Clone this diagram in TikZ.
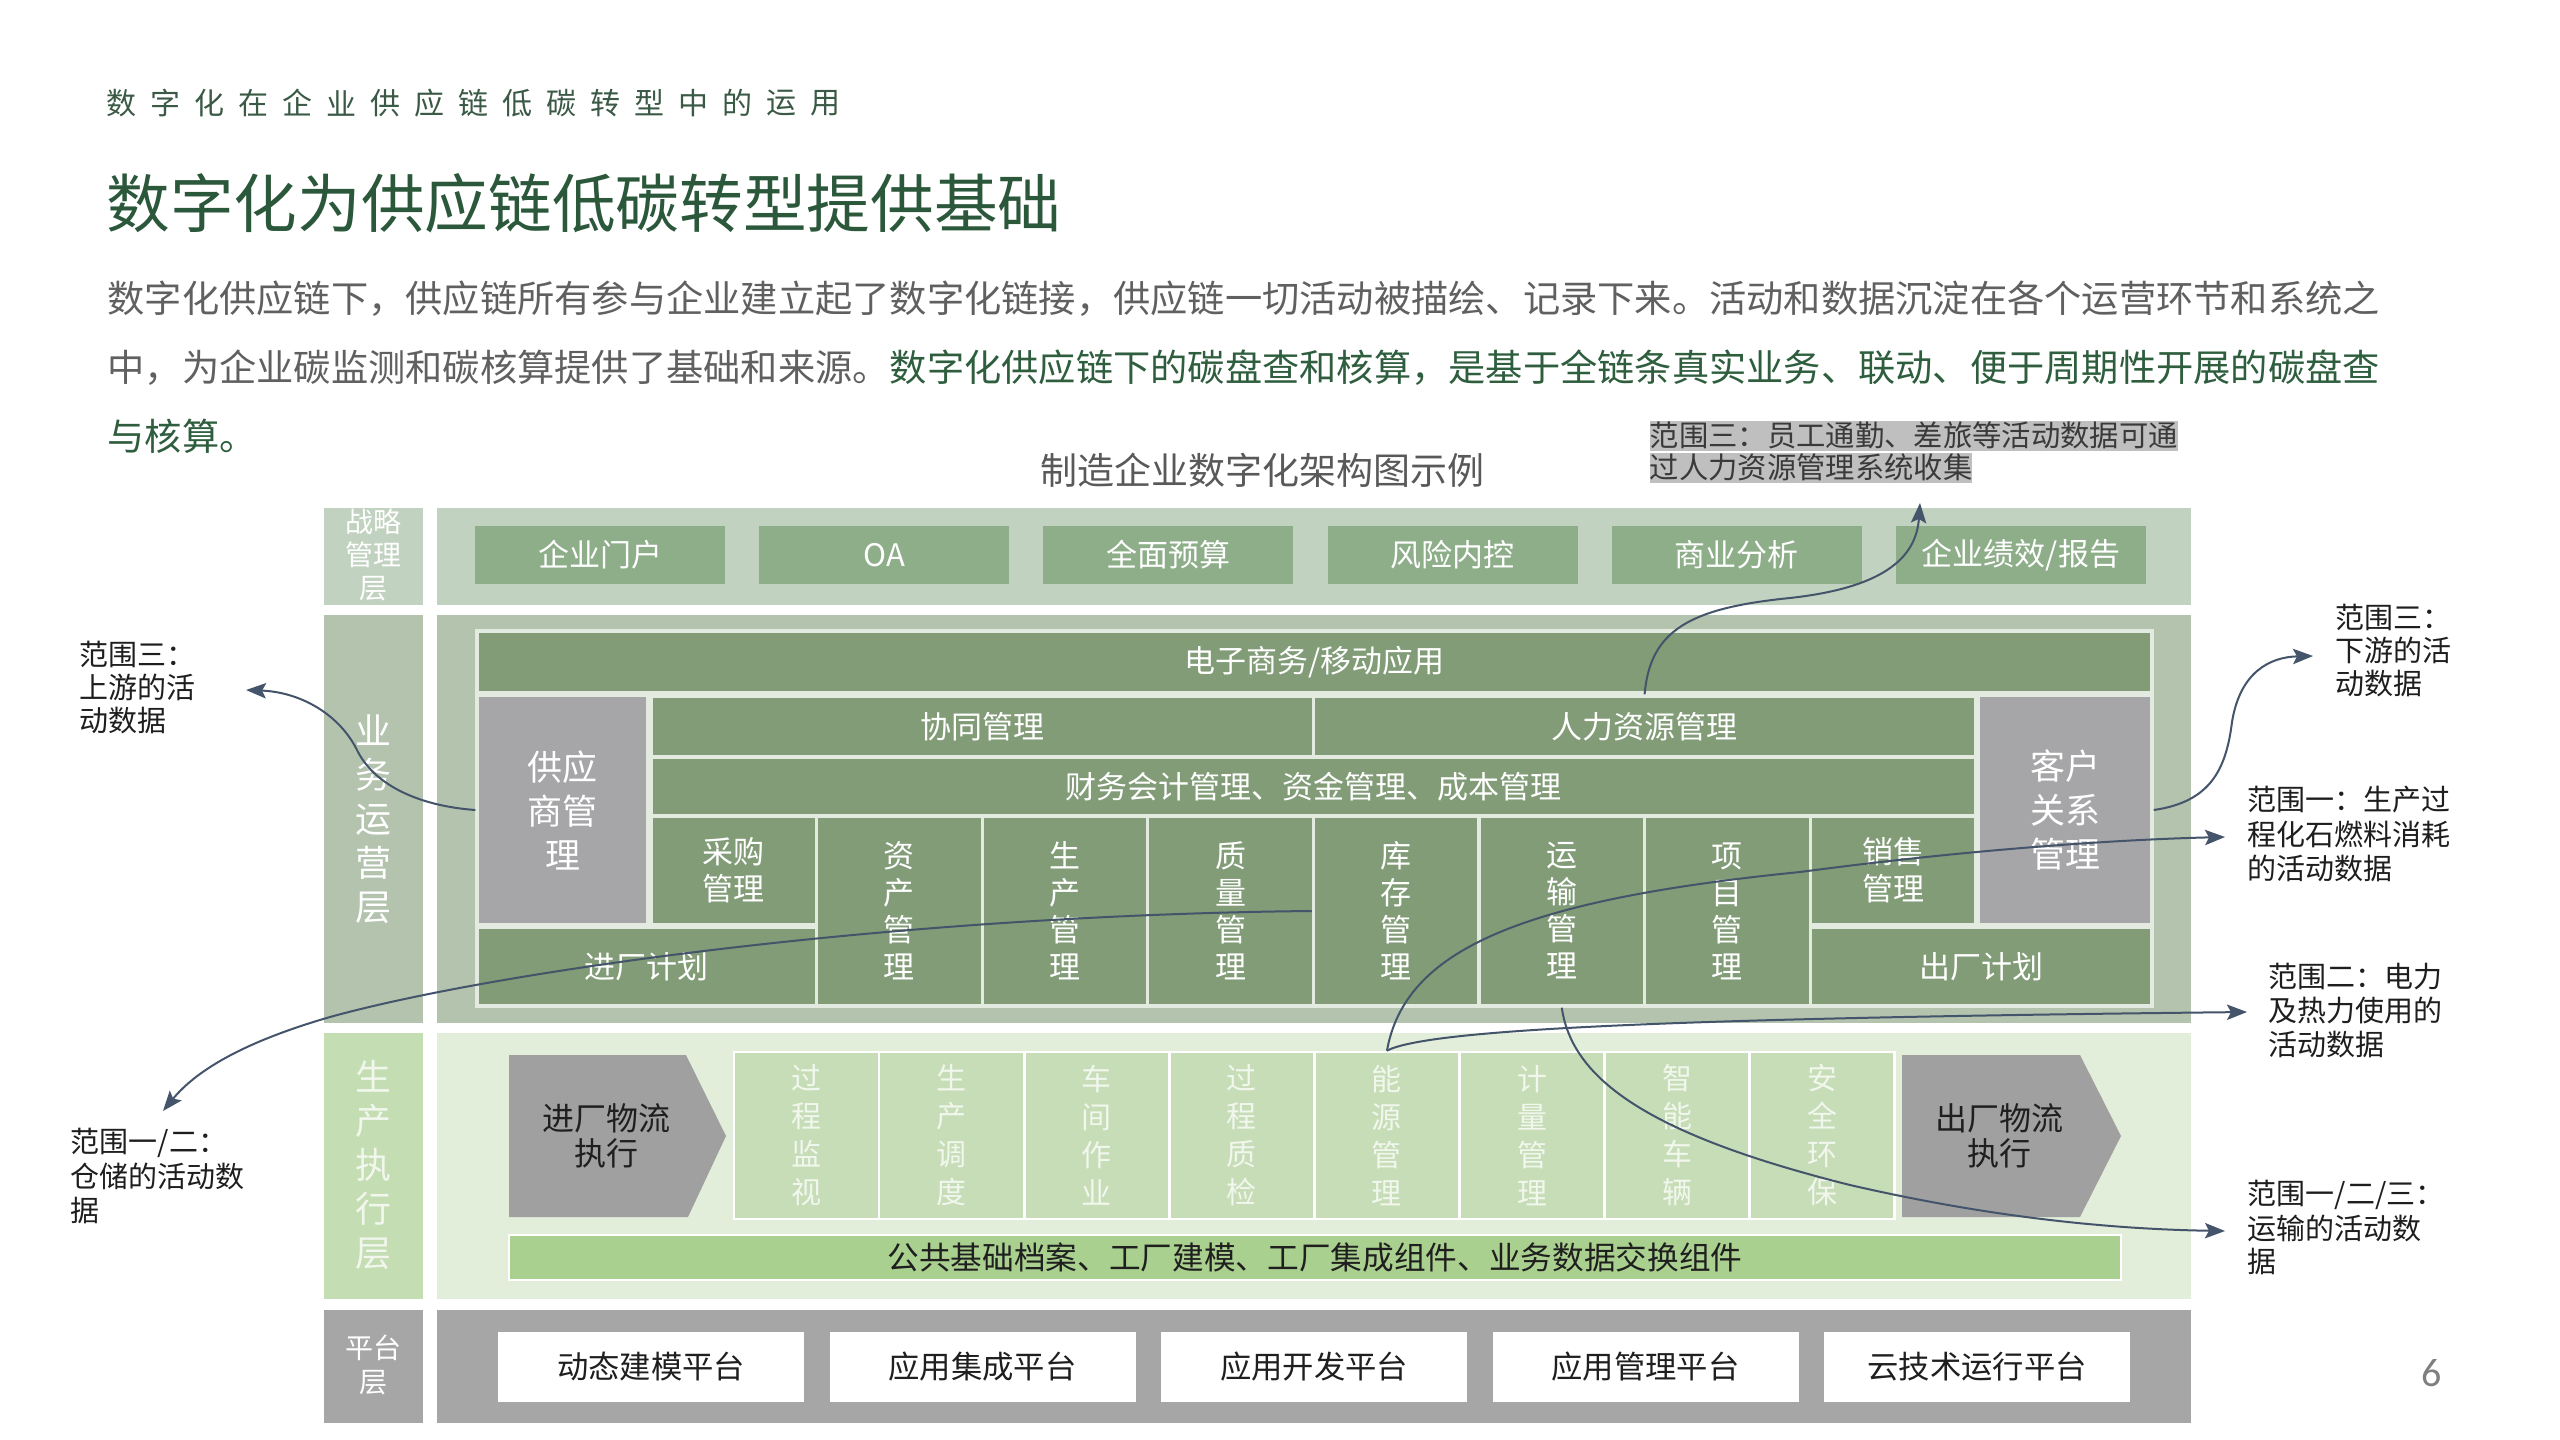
\documentclass[tikz,border=0pt]{standalone}
\usepackage{fontspec}
\setmainfont{Noto Sans CJK SC}
\newfontfamily\numfont{Carlito}
\usetikzlibrary{arrows.meta}
\definecolor{titlec}{HTML}{2B573B}
\definecolor{subc}{HTML}{3A5A45}
\definecolor{paragray}{HTML}{606060}
\definecolor{paragreen}{HTML}{2E5E3E}
\definecolor{capc}{HTML}{595959}
\definecolor{notec}{HTML}{1E1E1E}
\definecolor{hlfill}{HTML}{BFBFBF}
\definecolor{hltext}{HTML}{3A3A3A}
\definecolor{stratbg}{HTML}{C2D2C0}
\definecolor{busbg}{HTML}{B3C3AE}
\definecolor{sboxc}{HTML}{8DAE89}
\definecolor{bzbar}{HTML}{819C77}
\definecolor{bzline}{HTML}{E3EAE0}
\definecolor{graybx}{HTML}{A6A6A8}
\definecolor{prodlbl}{HTML}{C4DDB3}
\definecolor{prodbg}{HTML}{E2EDDA}
\definecolor{pcolc}{HTML}{C6DDB7}
\definecolor{ptext}{HTML}{F1F7ED}
\definecolor{pbarc}{HTML}{A9D08E}
\definecolor{logc}{HTML}{A0A0A0}
\definecolor{platbg}{HTML}{A6A6A6}
\definecolor{darktxt}{HTML}{1F1F1F}
\definecolor{linkc}{HTML}{44546A}
\definecolor{pgnum}{HTML}{7F7F7F}
\newcommand\setfs[2]{\fontsize{#1}{#2}\selectfont}
\newcommand\mybox[7]{\node[#6, minimum width={((#4)-(#2))*0.3pt}, minimum height={((#5)-(#3))*0.3pt}] (#1) at ({((#2)+(#4))/2},{((#3)+(#5))/2}) {#7};}
\tikzset{
  sbox/.style={fill=sboxc, inner sep=0, text=white, font=\setfs{9.3}{11}, align=center},
  bbar/.style={fill=bzbar, draw=bzline, line width=1pt, inner sep=0, text=white, font=\setfs{9.3}{11.1}, align=center},
  gbox/.style={fill=graybx, draw=bzline, line width=1pt, inner sep=0, text=white, font=\setfs{10.5}{13.2}, align=center},
  pcol/.style={fill=pcolc, draw=white, line width=0.8pt, inner sep=0, text=ptext, font=\setfs{9}{11.4}, align=center},
  pbar/.style={fill=pbarc, draw=white, line width=0.6pt, inner sep=0, text=darktxt, font=\setfs{9.5}{11}},
  platbox/.style={fill=white, inner sep=0, text=darktxt, font=\setfs{9.4}{11}},
  laylbl/.style={inner sep=0, text=white, align=center},
  logtxt/.style={inner sep=0, text=darktxt, font=\setfs{9.6}{10.5}, align=center},
  note/.style={inner sep=0, anchor=west, text=notec, font=\setfs{8.7}{8.7}},
  hl/.style={fill=hlfill, anchor=west, inner xsep=0, inner ysep=0.1pt, text height=7.6pt, text depth=1.3pt, text=hltext, font=\setfs{8.8}{8.8}},
  link/.style={draw=linkc, line width=0.6pt, -{Stealth[length=6pt,width=4.6pt,inset=1.2pt]}},
}
\begin{document}
\begin{tikzpicture}[x=0.3pt,y=-0.3pt]
\useasboundingbox (0,0) rectangle (2560,1440);
\fill[white] (0,0) rectangle (2560,1440);

% ---------- header ----------
\foreach \c [count=\i from 0] in {数,字,化,在,企,业,供,应,链,低,碳,转,型,中,的,运,用}
  \node[font=\setfs{9}{9}, text=subc, inner sep=0] (sub\i) at ({121+44*\i},103) {\c};
\node[anchor=west, inner sep=0, text=titlec, font=\setfs{19.1}{19.1}] (title) at (106,203) {数字化为供应链低碳转型提供基础};
\node[anchor=west, inner sep=0, text=paragray, font=\setfs{11.175}{11.175}] (para1) at (107,299) {数字化供应链下，供应链所有参与企业建立起了数字化链接，供应链一切活动被描绘、记录下来。活动和数据沉淀在各个运营环节和系统之};
\node[anchor=west, inner sep=0, font=\setfs{11.175}{11.175}] (para2) at (107,367.5) {\textcolor{paragray}{中，为企业碳监测和碳核算提供了基础和来源。}\textcolor{paragreen}{数字化供应链下的碳盘查和核算，是基于全链条真实业务、联动、便于周期性开展的碳盘查}};
\node[anchor=west, inner sep=0, text=paragreen, font=\setfs{11.175}{11.175}] (para3) at (107,436) {与核算。};
\node[inner sep=0, text=capc, font=\setfs{11.1}{11.1}] (caption) at (1262,470) {制造企业数字化架构图示例};
\node[hl] (hrnote1) at (1649,436) {范围三：员工通勤、差旅等活动数据可通};
\node[hl] (hrnote2) at (1649,468) {过人力资源管理系统收集};

% ---------- layer backgrounds ----------
\fill[stratbg] (324,508) rectangle (423,605);
\fill[stratbg] (437,508) rectangle (2191,605);
\fill[busbg] (324,615) rectangle (423,1023);
\fill[busbg] (437,615) rectangle (2191,1023);
\fill[prodlbl] (324,1033) rectangle (423,1299);
\fill[prodbg] (437,1033) rectangle (2191,1299);
\fill[platbg] (324,1310) rectangle (423,1423);
\fill[platbg] (437,1310) rectangle (2191,1423);

\node[laylbl, font=\setfs{8.4}{9.9}] (lblS) at (373,555) {战略\\管理\\层};
\node[laylbl, font=\setfs{10.8}{13.2}] (lblB) at (373,819) {业\\务\\运\\营\\层};
\node[laylbl, font=\setfs{10.8}{13.2}, text=ptext] (lblP) at (373,1165) {生\\产\\执\\行\\层};
\node[laylbl, font=\setfs{8.4}{10.2}] (lblF) at (373,1365) {平台\\层};

% ---------- strategy layer ----------
\mybox{s1}{475}{526}{725}{584}{sbox}{企业门户}
\mybox{s2}{759.2}{526}{1009.2}{584}{sbox}{OA}
\mybox{s3}{1043.4}{526}{1293.4}{584}{sbox}{全面预算}
\mybox{s4}{1327.6}{526}{1577.6}{584}{sbox}{风险内控}
\mybox{s5}{1611.8}{526}{1861.8}{584}{sbox}{商业分析}
\mybox{s6}{1896}{526}{2146}{584}{sbox}{企业绩效/报告}

% ---------- business layer ----------
\mybox{ecom}{477}{631}{2152}{693}{bbar}{电子商务/移动应用}
\mybox{sup}{477}{695}{648}{925}{gbox}{供应\\商管\\理}
\mybox{coop}{651}{696}{1313.4}{757}{bbar}{协同管理}
\mybox{hr}{1313.4}{696}{1975.8}{757}{bbar}{人力资源管理}
\mybox{fin}{651}{757}{1975.8}{816}{bbar}{财务会计管理、资金管理、成本管理}
\mybox{crm}{1978}{695}{2152}{925}{gbox}{客户\\关系\\管理}
\mybox{pur}{651}{816}{816.6}{925}{bbar}{采购\\管理}
\mybox{ast}{816.6}{816}{982.2}{1006}{bbar}{资\\产\\管\\理}
\mybox{prd}{982.2}{816}{1147.8}{1006}{bbar}{生\\产\\管\\理}
\mybox{qua}{1147.8}{816}{1313.4}{1006}{bbar}{质\\量\\管\\理}
\mybox{inv}{1313.4}{816}{1479}{1006}{bbar}{库\\存\\管\\理}
\mybox{trn}{1479}{816}{1644.6}{1006}{bbar}{运\\输\\管\\理}
\mybox{prj}{1644.6}{816}{1810.2}{1006}{bbar}{项\\目\\管\\理}
\mybox{sal}{1810.2}{816}{1975.8}{925}{bbar}{销售\\管理}
\mybox{inp}{477}{927}{816.6}{1006}{bbar}{进厂计划}
\mybox{outp}{1810.2}{927}{2152}{1006}{bbar}{出厂计划}

% ---------- production layer ----------
\fill[logc] (509,1055) -- (686,1055) -- (726,1136) -- (688,1217) -- (509,1217) -- cycle;
\node[logtxt] (inlog) at (606,1136) {进厂物流\\执行};
\foreach \t [count=\i from 0] in {过\\程\\监\\视,生\\产\\调\\度,车\\间\\作\\业,过\\程\\质\\检,能\\源\\管\\理,计\\量\\管\\理,智\\能\\车\\辆,安\\全\\环\\保}
  {\mybox{pc\i}{734+145.1*\i}{1052}{879.1+145.1*\i}{1219}{pcol}{\t}}
\fill[logc] (1902,1055) -- (2080,1055) -- (2121,1136) -- (2080,1217) -- (1902,1217) -- cycle;
\node[logtxt] (outlog) at (1999,1136) {出厂物流\\执行};
\mybox{pbarn}{509}{1235}{2121}{1280}{pbar}{公共基础档案、工厂建模、工厂集成组件、业务数据交换组件}

% ---------- platform layer ----------
\mybox{pl1}{498}{1332}{804}{1402}{platbox}{动态建模平台}
\mybox{pl2}{829.5}{1332}{1135.5}{1402}{platbox}{应用集成平台}
\mybox{pl3}{1161}{1332}{1467}{1402}{platbox}{应用开发平台}
\mybox{pl4}{1492.5}{1332}{1798.5}{1402}{platbox}{应用管理平台}
\mybox{pl5}{1824}{1332}{2130}{1402}{platbox}{云技术运行平台}

% ---------- side notes ----------
\foreach \t [count=\i from 0] in {范围三：,上游的活,动数据}
  \node[note] (nup\i) at (79,{654+33.3*\i}) {\t};
\foreach \t [count=\i from 0] in {范围一/二：,仓储的活动数,据}
  \node[note] (nst\i) at (70,{1143+33.5*\i}) {\t};
\foreach \t [count=\i from 0] in {范围三：,下游的活,动数据}
  \node[note] (ndn\i) at (2335,{617+33.5*\i}) {\t};
\foreach \t [count=\i from 0] in {范围一：生产过,程化石燃料消耗,的活动数据}
  \node[note] (nfu\i) at (2247,{800+34*\i}) {\t};
\foreach \t [count=\i from 0] in {范围二：电力,及热力使用的,活动数据}
  \node[note] (nel\i) at (2268,{977+33.5*\i}) {\t};
\foreach \t [count=\i from 0] in {范围一/二/三：,运输的活动数,据}
  \node[note] (ntr\i) at (2247,{1195+33*\i}) {\t};

\node[inner sep=0, text=pgnum, font=\numfont\setfs{12}{12}] (pg) at (2432,1373) {6};

% ---------- connectors ----------
\coordinate (tipUp) at (246,690);
\coordinate (tipStore) at (163,1111);
\coordinate (tipHR) at (1920,503);
\coordinate (tipDown) at (2313,656);
\coordinate (tipFuel) at (2225,837);
\coordinate (tipElec) at (2247,1012);
\coordinate (tipTrans) at (2225,1231);
\draw[link] (sup.west) .. controls (420,806) and (376,786) .. (358,752) .. controls (340,714) and (300,692) .. (tipUp);
\draw[link] (inv.west) .. controls (900,915) and (500,970) .. (330,1017) .. controls (240,1043) and (195,1072) .. (tipStore);
\draw[link] (hr.north) .. controls (1650,630) and (1690,608) .. (1790,598) .. controls (1880,588) and (1916,560) .. (tipHR);
\draw[link] (crm.east) .. controls (2210,802) and (2226,770) .. (2232,722) .. controls (2240,672) and (2270,657) .. (tipDown);
\draw[link] (pc4.north) .. controls (1405,950) and (1520,900) .. (1800,872) .. controls (1950,852) and (2100,840) .. (tipFuel);
\draw[link] (pc4.north) .. controls (1430,1028) and (1700,1018) .. (tipElec);
\draw[link] (trn.south) .. controls (1572,1080) and (1650,1135) .. (1850,1185) .. controls (1980,1215) and (2100,1229) .. (tipTrans);
\end{tikzpicture}
\end{document}
